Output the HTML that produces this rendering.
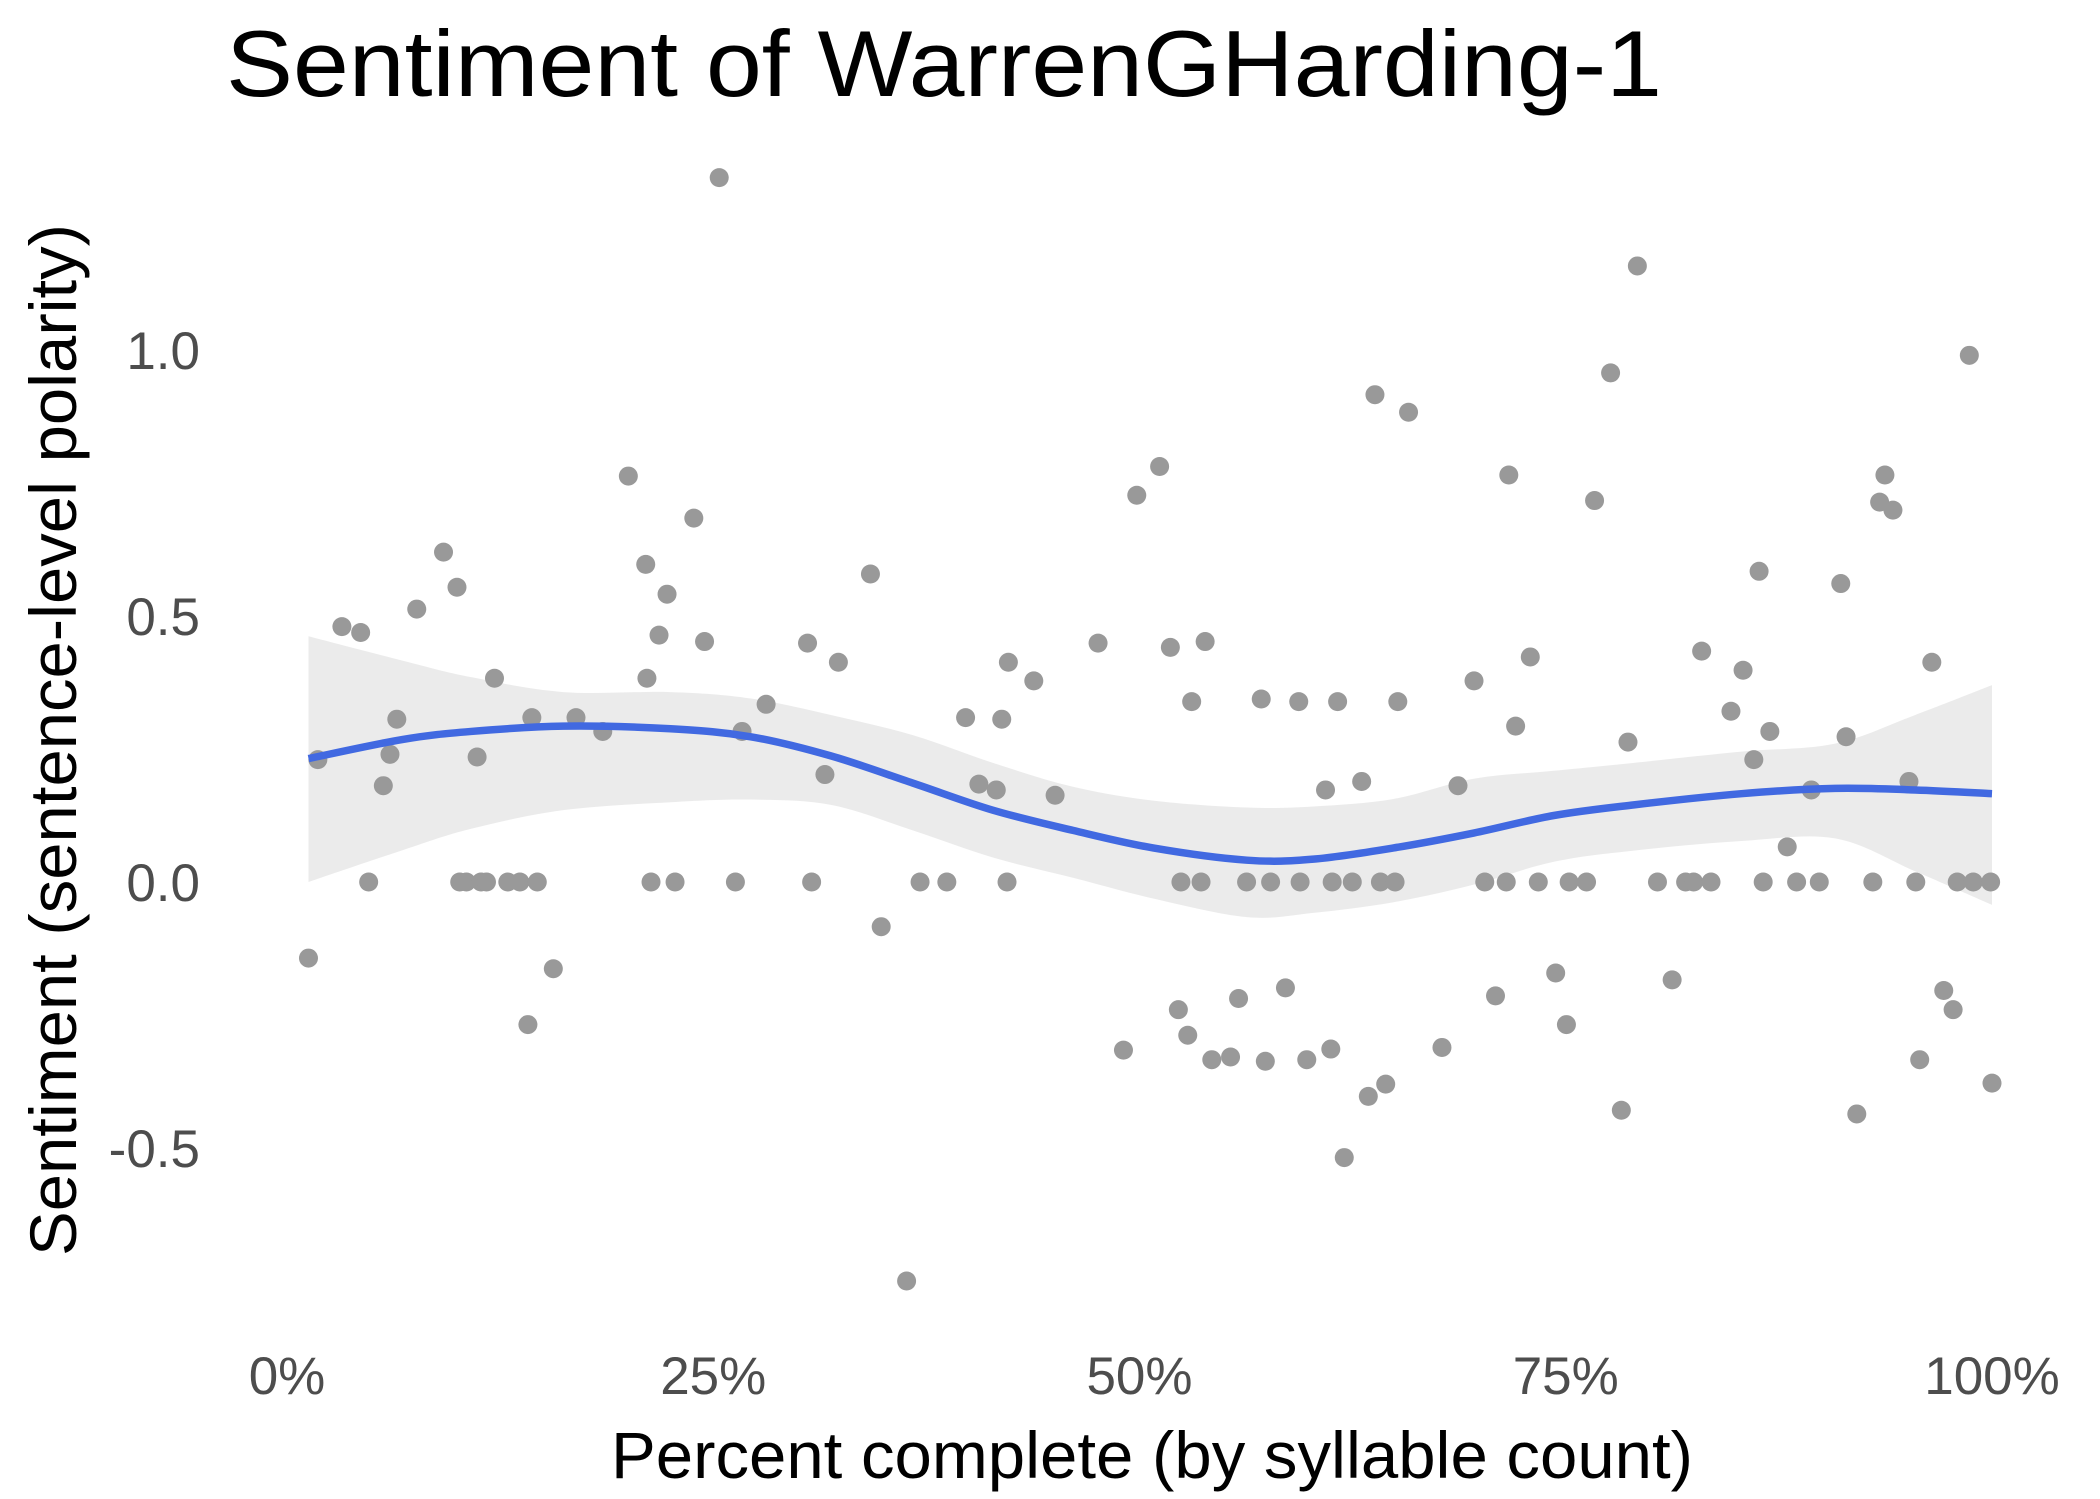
<!DOCTYPE html>
<html><head><meta charset="utf-8"><style>
html,body{margin:0;padding:0;background:#fff;}
svg{display:block;font-family:"Liberation Sans",Arial,sans-serif;}
</style></head><body>
<svg id="chart" width="2100" height="1499" viewBox="0 0 2100 1499" xmlns="http://www.w3.org/2000/svg">
<rect width="2100" height="1499" fill="#fff"/>
<text x="226" y="96" font-size="94" fill="#000" textLength="1436" lengthAdjust="spacingAndGlyphs">Sentiment of WarrenGHarding-1</text>
<g id="points"></g>
<g id="smooth"></g>
<g id="yticks"></g>
<g id="xticks"></g>
<text x="1152" y="1478" font-size="66" text-anchor="middle" fill="#000" textLength="1082" lengthAdjust="spacingAndGlyphs">Percent complete (by syllable count)</text>
<text transform="translate(76,740) rotate(-90)" font-size="66" text-anchor="middle" fill="#000" textLength="1032" lengthAdjust="spacingAndGlyphs">Sentiment (sentence-level polarity)</text>
</svg>
<script>
const pctX=[1.26,1.81,3.22,4.32,4.79,5.65,6.04,6.44,7.61,9.18,9.97,10.13,10.52,11.15,11.38,11.70,12.17,12.95,13.66,14.13,14.36,14.68,15.62,16.95,18.52,20.02,21.04,21.11,21.35,21.82,22.29,22.76,23.86,24.49,25.35,26.30,26.69,28.10,30.53,30.77,31.55,32.34,34.22,34.85,36.34,37.13,38.70,39.80,40.58,41.60,41.92,42.23,42.31,43.80,45.05,47.57,49.06,49.84,51.18,51.81,52.28,52.43,52.83,53.06,53.61,53.85,54.24,55.34,55.81,56.28,57.14,57.38,57.69,58.56,59.34,59.42,59.81,60.91,61.22,61.30,61.62,62.01,62.48,63.03,63.42,63.81,64.13,64.44,64.99,65.15,65.78,67.74,68.68,69.62,70.25,70.88,71.51,71.66,72.06,72.92,73.39,74.41,75.04,75.20,76.22,76.69,77.63,78.26,78.65,79.20,80.38,81.24,82.03,82.50,82.97,83.52,84.69,85.40,86.03,86.34,86.58,86.97,87.99,88.54,89.40,89.87,91.13,91.44,92.07,93.01,93.41,93.72,94.19,95.13,95.53,95.76,96.47,97.17,97.72,97.96,98.67,98.90,99.92,100];
const sentiment=[-0.143,0.230,0.480,0.469,0,0.181,0.240,0.306,0.513,0.620,0.554,0,0,0.235,0,0,0.383,0,0,-0.268,0.309,0,-0.163,0.309,0.283,0.763,0.597,0.383,0,0.464,0.541,0,0.684,0.452,1.324,0,0.283,0.334,0.449,0,0.202,0.413,0.579,-0.084,-0.750,0,0,0.309,0.184,0.173,0.306,0,0.413,0.378,0.163,0.449,-0.316,0.727,0.781,0.441,-0.240,0,-0.288,0.339,0,0.452,-0.334,-0.329,-0.219,0,0.344,-0.337,0,-0.199,0.339,0,-0.334,0.173,-0.314,0,0.339,-0.518,0,0.189,-0.403,0.916,0,-0.380,0,0.339,0.883,-0.311,0.181,0.378,0,-0.214,0,0.765,0.293,0.423,0,-0.171,-0.268,0,0,0.717,0.957,-0.429,0.263,1.158,0,-0.184,0,0,0.434,0,0.321,0.398,0.230,0.584,0,0.283,0.066,0,0.173,0,0.561,0.273,-0.436,0,0.714,0.765,0.699,0.189,0,-0.334,0.413,-0.204,-0.240,0,0.990,0,0,-0.378];
const fitX=[1.26,6.8,10.8,16.2,22.5,27.2,31.9,36.7,41.4,46.1,50.8,56.3,60.2,64.9,69.6,74.3,79.0,85.3,90.8,95.5,100];
const fitY=[0.232,0.268,0.283,0.293,0.288,0.273,0.237,0.186,0.135,0.097,0.064,0.041,0.043,0.064,0.092,0.125,0.145,0.166,0.176,0.173,0.166];
const fitUpper=[0.462,0.416,0.385,0.357,0.357,0.345,0.314,0.276,0.224,0.179,0.153,0.140,0.142,0.156,0.194,0.209,0.224,0.245,0.260,0.314,0.370];
const fitLower=[0.0,0.060,0.100,0.135,0.150,0.155,0.145,0.097,0.046,0.008,-0.031,-0.066,-0.058,-0.038,-0.005,0.038,0.059,0.077,0.082,0.020,-0.043];
const yTicks=[-0.5,0,0.5,1.0];
const yTickLabels=["-0.5","0.0","0.5","1.0"];
const xTicks=[0,25,50,75,100];
const xTickLabels=["0%","25%","50%","75%","100%"];

const NS="http://www.w3.org/2000/svg";
function X(p){return 287+p*17.05;}
function Y(v){return 882-532*v;}
function mk(tag,attrs,parent){const e=document.createElementNS(NS,tag);for(const k in attrs)e.setAttribute(k,attrs[k]);parent.appendChild(e);return e;}
function smoothPath(pts){
  let d='M'+pts[0][0]+','+pts[0][1];
  for(let i=0;i<pts.length-1;i++){
    const p0=pts[Math.max(0,i-1)],p1=pts[i],p2=pts[i+1],p3=pts[Math.min(pts.length-1,i+2)];
    const c1=[p1[0]+(p2[0]-p0[0])/6,p1[1]+(p2[1]-p0[1])/6];
    const c2=[p2[0]-(p3[0]-p1[0])/6,p2[1]-(p3[1]-p1[1])/6];
    d+='C'+c1[0]+','+c1[1]+' '+c2[0]+','+c2[1]+' '+p2[0]+','+p2[1];
  }
  return d;
}

const pg=document.getElementById('points');
pctX.forEach((p,i)=>{
  const c=mk('circle',{cx:X(p),cy:Y(sentiment[i]),r:9.5,fill:'#999999'},pg);
  
  
});

const sg=document.getElementById('smooth');
const up=fitX.map((p,i)=>[X(p),Y(fitUpper[i])]);
const lo=fitX.map((p,i)=>[X(p),Y(fitLower[i])]).reverse();
const rib=smoothPath(up)+'L'+smoothPath(lo).slice(1)+'Z';
const r=mk('path',{d:rib,fill:'#999999','fill-opacity':0.2},sg);


const pts=fitX.map((p,i)=>[X(p),Y(fitY[i])]);
const ln=mk('path',{d:smoothPath(pts),fill:'none',stroke:'#4169E1','stroke-width':7.5},sg);



const yg=document.getElementById('yticks');
yTicks.forEach((v,i)=>{
  const t=mk('text',{x:200,y:Y(v)+19,'font-size':53,'text-anchor':'end',fill:'#4d4d4d'},yg);
  t.textContent=yTickLabels[i];
  
  
});
const xg=document.getElementById('xticks');
xTicks.forEach((p,i)=>{
  const t=mk('text',{x:X(p),y:1394,'font-size':53,'text-anchor':'middle',fill:'#4d4d4d'},xg);
  t.textContent=xTickLabels[i];
  
  
});
</script>
</body></html>
